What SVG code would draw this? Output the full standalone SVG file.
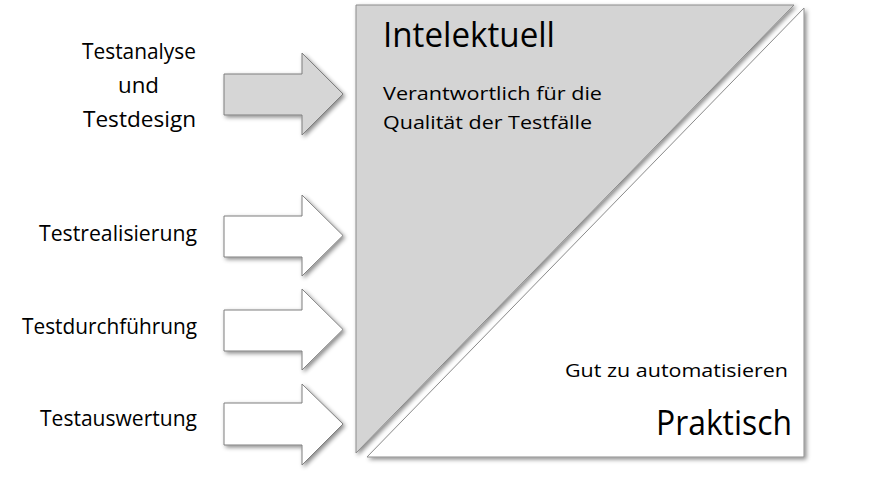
<svg xmlns="http://www.w3.org/2000/svg" width="888" height="478" viewBox="0 0 888 478">
<defs>
<filter id="sh" x="-10%" y="-10%" width="130%" height="130%">
<feDropShadow dx="2" dy="2" stdDeviation="2" flood-color="#000" flood-opacity="0.45"/>
</filter>
</defs>
<style>
.t{font-family:"Open Sans","Liberation Sans",sans-serif;fill:#000}
.lab{font-size:21px}
.sub{font-size:19px}
.big{font-size:34px}
.arrow{stroke:#7f7f7f;stroke-width:1;filter:url(#sh)}
.tri{stroke:#8c8c8c;stroke-width:1;filter:url(#sh)}
</style>
<rect width="888" height="478" fill="#fff"/>
<g id="upper">
<polygon class="tri" points="356,5 794,5 356,453" fill="#d4d4d4"/>
<text class="t big" x="383" y="47" textLength="172" lengthAdjust="spacingAndGlyphs">Intelektuell</text>
<text class="t sub" x="383" y="100" textLength="219" lengthAdjust="spacingAndGlyphs">Verantwortlich für die</text>
<text class="t sub" x="383" y="129" textLength="209" lengthAdjust="spacingAndGlyphs">Qualität der Testfälle</text>
</g>
<g id="lower">
<polygon class="tri" points="804,8 804,457 367,457" fill="#fff"/>
<text class="t sub" x="565" y="377" textLength="223" lengthAdjust="spacingAndGlyphs">Gut zu automatisieren</text>
<text class="t big" x="656" y="435" textLength="136" lengthAdjust="spacingAndGlyphs">Praktisch</text>
</g>
<g id="connectors">
<path class="arrow" fill="#d6d6d6" d="M224,74 H302 V53 L343,94 L302,135 V115 H224 Z"/>
<path class="arrow" fill="#fff" d="M224,216 H302 V195 L343,235.5 L302,276 V257 H224 Z"/>
<path class="arrow" fill="#fff" d="M224,310 H302 V289 L343,329.5 L302,370 V351 H224 Z"/>
<path class="arrow" fill="#fff" d="M224,403 H302 V384 L343,424 L302,465 V445 H224 Z"/>
</g>
<g id="labels">
<text class="t lab" x="82" y="59" textLength="114" lengthAdjust="spacingAndGlyphs">Testanalyse</text>
<text class="t lab" x="118" y="93" textLength="41" lengthAdjust="spacingAndGlyphs">und</text>
<text class="t lab" x="83" y="127" textLength="113" lengthAdjust="spacingAndGlyphs">Testdesign</text>
<text class="t lab" x="39" y="241" textLength="158" lengthAdjust="spacingAndGlyphs">Testrealisierung</text>
<text class="t lab" x="22" y="334" textLength="175" lengthAdjust="spacingAndGlyphs">Testdurchführung</text>
<text class="t lab" x="40" y="426" textLength="157" lengthAdjust="spacingAndGlyphs">Testauswertung</text>
</g>
</svg>
